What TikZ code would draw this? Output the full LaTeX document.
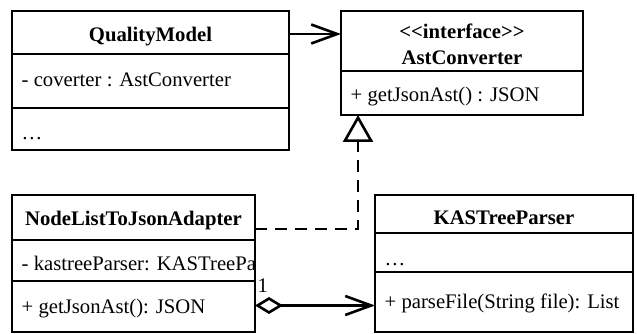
\documentclass[tikz,border=0pt]{standalone}
\usepackage{fontspec}
\setmainfont{Liberation Serif}
\usetikzlibrary{arrows.meta}

\tikzset{
  classbox/.style={draw, line width=2.6pt, inner sep=0pt, outer sep=0pt},
  divider/.style={line width=2pt},
  title/.style={anchor=base, inner sep=0pt, font=\fontsize{20.7pt}{24pt}\selectfont\bfseries},
  member/.style={anchor=base west, inner sep=0pt},
  assoc/.style={line width=2.6pt, -{Straight Barb[length=26pt, width=19pt]}},
  realize/.style={line width=2.6pt, dash pattern=on 12pt off 8pt,
                  -{Triangle[open, length=27pt, width=30pt]}},
  aggr/.style={line width=2.6pt,
               {Diamond[open, length=28pt, width=17pt]}-{Straight Barb[length=26pt, width=19pt]}},
}

\begin{document}
\begin{tikzpicture}[x=1pt, y=-1pt, font=\fontsize{20.7pt}{24pt}\selectfont]
\useasboundingbox (0,0) rectangle (637,334);

% QualityModel
\node[classbox, minimum width=277pt, minimum height=139pt] (qm) at (150.5,80.5) {};
\draw[divider] (qm.west |- 0,54) -- (qm.east |- 0,54);
\draw[divider] (qm.west |- 0,108) -- (qm.east |- 0,108);
\node[title] (qm-name) at (150.5,41.5) {QualityModel};
\node[member] (qm-attr) at (21.5,87) {- coverter : AstConverter};
\node[member] (qm-ops) at (21.5,139.5) {…};

% AstConverter interface
\node[classbox, minimum width=242pt, minimum height=104pt] (ac) at (462,63) {};
\draw[divider] (ac.west |- 0,71) -- (ac.east |- 0,71);
\node[title] (ac-stereo) at (462,39) {<\kern0pt<interface>\kern0pt>};
\node[title] (ac-name) at (462,65) {AstConverter};
\node[member] (ac-op) at (350.5,101.5) {+ getJsonAst() : JSON};

% NodeListToJsonAdapter
\node[classbox, minimum width=243pt, minimum height=137pt] (nl) at (133.5,263.5) {};
\draw[divider] (nl.west |- 0,240) -- (nl.east |- 0,240);
\draw[divider] (nl.west |- 0,281) -- (nl.east |- 0,281);
\node[title] (nl-name) at (133.5,225) {NodeListToJsonAdapter};
\begin{scope}
  \clip ([xshift=1.3pt]nl.north west) rectangle ([xshift=-1.3pt]nl.south east);
  \node[member] (nl-attr) at (21.5,270.5) {- kastreeParser: KASTreeParser};
\end{scope}
\node[member] (nl-op) at (21.5,313) {+ getJsonAst(): JSON};

% KASTreeParser
\node[classbox, minimum width=258pt, minimum height=137pt] (kp) at (504,263.5) {};
\draw[divider] (kp.west |- 0,233) -- (kp.east |- 0,233);
\draw[divider] (kp.west |- 0,272) -- (kp.east |- 0,272);
\node[title] (kp-name) at (504,224) {KASTreeParser};
\node[member] (kp-attr) at (384.5,265) {…};
\node[member] (kp-op) at (384.5,308) {+ parseFile(String file): List};

% Relations
\draw[assoc] (qm.east |- 0,34) -- (ac.west |- 0,34);
\draw[realize] (nl.east |- 0,229) -| ([xshift=17pt]ac.south west);
\draw[aggr] (nl.east |- 0,305.5) -- (kp.west |- 0,305.5);
\node[member] (mult) at (257.5,292) {1};
\end{tikzpicture}
\end{document}
